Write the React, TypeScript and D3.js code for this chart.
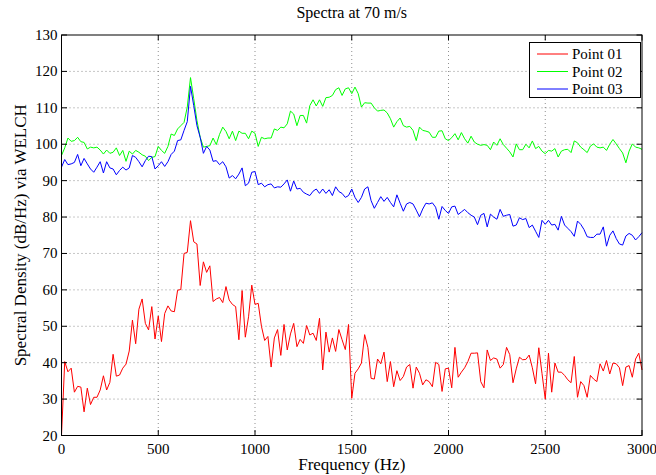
import React from "react";
import * as d3 from "d3";

const FREQ_MAX = 3000;
const N_BINS = 180;

const point01: number[] = [
  20, 40.3, 37.5, 38.5, 31.9, 33.5, 33.3, 26.5, 33, 28.5,
  30.5, 30.5, 32.5, 36.4, 32.5, 34.6, 42.3, 36.3, 36.6, 38.5,
  39.6, 43.2, 51.7, 45.2, 54.7, 57.5, 50.8, 49, 55.4, 46.5,
  52.8, 45.8, 53.5, 55.6, 54.2, 54, 59.9, 60.1, 70, 70.3,
  79, 73.2, 72.6, 61.2, 67.7, 64.8, 66.6, 56.8, 57.5, 57.9,
  56.5, 60.9, 57.2, 56, 55.4, 46.3, 59.8, 47, 52.6, 61.3,
  56, 56.3, 50, 46.1, 47.2, 38.8, 46.8, 49.1, 42, 50.5,
  43.5, 47.9, 50.8, 44.4, 46.4, 45.3, 50.2, 47.6, 48.1, 46.1,
  52.2, 38, 48.4, 42.9, 46.8, 43.1, 49.1, 46.3, 43.6, 50.5,
  30.2, 37.1, 38.3, 39.9, 47.7, 44.2, 35.7, 35.5, 41, 39.7,
  42.9, 34.8, 40.3, 33.4, 37.8, 35.1, 36.2, 38.8, 39.5, 33,
  38.8, 37.1, 33.9, 35.3, 34.8, 33.4, 40.1, 39.5, 32.1, 38.3,
  38.5, 33.1, 44.2, 36, 37.4, 38.6, 40.3, 42.6, 42.6, 42.7,
  34.8, 33.1, 43.5, 40.6, 41.3, 41, 38.5, 39.5, 44.2, 42.2,
  34.5, 38.3, 41.5, 40.8, 40.9, 42.1, 38.6, 34.2, 44.1, 37,
  30, 42.6, 31.9, 39.9, 37.4, 37.4, 36.5, 35.3, 34.5, 41.7,
  30.5, 34.8, 33.7, 30.5, 36.5, 35.5, 34.8, 39.7, 37.7, 40.6,
  36.9, 39.9, 39.7, 38.6, 33.7, 38.8, 39.2, 36, 41, 42.6,
  38,
];

const point02: number[] = [
  96.9, 99, 101.7, 100.8, 101, 101.9, 100.7, 100.5, 98.7, 99.2,
  99, 99.2, 98.4, 97.3, 98.4, 97.5, 97.8, 99, 96.9, 98.3,
  95.3, 98.1, 97.3, 98.3, 97.8, 97.1, 96.7, 95.5, 96.4, 96.6,
  99.4, 98.3, 97.5, 99.4, 102.8, 102.4, 104.2, 105.1, 106, 110.2,
  118.3, 112.5, 106.5, 101.9, 99.2, 99.4, 99.6, 101.7, 99.9, 102.7,
  104.7, 103.5, 101.5, 103.6, 101, 103.6, 103, 103, 101.5, 103.6,
  103, 99.4, 101.9, 101.5, 101.7, 101.7, 104.2, 103.8, 104.7, 104.5,
  105.6, 109.1, 108.3, 105.1, 107.9, 107.9, 105.8, 110.6, 112.2, 110.5,
  112.2, 110.4, 112.8, 112.9, 113.4, 115, 115.5, 113.4, 115.2, 115.5,
  113.9, 115.7, 113.9, 110.2, 111.4, 111.3, 111.3, 110, 109.1, 109.3,
  109.4, 108.6, 107, 104.7, 106.2, 107.2, 105.1, 104.7, 104.9, 103.8,
  101, 104.7, 103.8, 103.6, 103.3, 101.9, 101.9, 103.6, 103.7, 101.5,
  101, 101.8, 102.9, 101.2, 103.2, 101.5, 100.3, 102.2, 100.6, 100,
  99.7, 99.9, 99.7, 98.5, 100.6, 99.7, 101.5, 99.9, 98.9, 97.9,
  96.5, 100.1, 98.5, 98.5, 100, 99, 100.9, 98.8, 99.4, 98.1,
  97.4, 98.3, 98.1, 98.8, 96.5, 98.1, 98.5, 98.6, 97.7, 100.9,
  100.4, 99.2, 98.5, 97.7, 99.5, 100.1, 99.2, 99, 99.2, 98.3,
  100, 101.3, 100.1, 98.8, 97.6, 94.9, 98.1, 100.1, 99.2, 99,
  98.6,
];

const point03: number[] = [
  93.7, 95.8, 94.4, 94.6, 95, 97.2, 94.1, 96.1, 94.6, 93.2,
  92.3, 93.7, 95.2, 92.1, 95.2, 93.5, 93.2, 91.6, 92.8, 93.7,
  92.9, 93.5, 96.9, 96.4, 95.2, 93.8, 95.5, 96.7, 96.6, 93.2,
  94.1, 95.2, 93.9, 95.2, 97.2, 98.1, 101, 101.2, 103.8, 106.2,
  115.9, 110.6, 105.1, 101.9, 97.5, 99.4, 98.4, 95.3, 95.5, 94.4,
  95.2, 93.8, 90.7, 91.4, 90.5, 91.8, 93.5, 88.6, 89.3, 92.3,
  92.5, 88.9, 89.3, 88.3, 88.9, 89.1, 88, 88.3, 88.2, 89.1,
  90.2, 87.1, 89.9, 87.7, 87.9, 86.8, 86.3, 85.9, 87.1, 87.7,
  86.5, 87.7, 86.5, 87.5, 85.9, 88.3, 87, 86.5, 85.4, 85.9,
  87.7, 85.4, 84, 85.4, 87.7, 88.3, 84.5, 82.4, 84, 85.6,
  84.3, 85.4, 84, 82.8, 86.1, 83.8, 81.6, 83.6, 84, 83.6,
  81.9, 80.1, 82.2, 83.8, 83.6, 83.9, 82.7, 79.4, 82.9, 81.8,
  81, 82.8, 83, 80.7, 81.4, 82.1, 81.2, 80.5, 80, 77.9,
  80.5, 81, 77.3, 80.8, 80, 79.4, 82.1, 80.2, 80.5, 80.7,
  77.5, 77.8, 79.8, 79.3, 79.6, 77.1, 77.8, 76.1, 74.4, 79.1,
  78, 79.1, 77.8, 78, 76.4, 80.2, 77.8, 76.9, 76, 74.7,
  78.9, 78, 76.6, 74.6, 74.4, 74.4, 75.3, 75.3, 77.3, 72,
  75, 76.2, 74.1, 72.6, 72.3, 74.8, 75.5, 75, 73.7, 74.6,
  75.7,
];

const seriesNames = ["Point 01", "Point 02", "Point 03"];
const seriesColors = ["#ff0000", "#00ff00", "#0000ff"];
const seriesValues = [point01, point02, point03];

const xTicks = [0, 500, 1000, 1500, 2000, 2500, 3000];
const yTicks = [20, 30, 40, 50, 60, 70, 80, 90, 100, 110, 120, 130];

const titleText = "Spectra at 70 m/s";
const xLabel = "Frequency (Hz)";
const yLabel = "Spectral Density (dB/Hz) via WELCH";

const W = 656;
const H = 475;
const L = 61.5;
const R = 642;
const T = 35;
const B = 435.5;
const FONT = "'Liberation Serif', 'Times New Roman', serif";

export default function App() {
  const x = d3.scaleLinear().domain([0, FREQ_MAX]).range([L, R]);
  const y = d3.scaleLinear().domain([20, 130]).range([B, T]);
  const freqs = d3.range(N_BINS + 1).map((i) => (i * FREQ_MAX) / N_BINS);
  const line = d3
    .line<number>()
    .x((_, i) => x(freqs[i]))
    .y((v) => y(v));
  const tickLen = 5.5;

  return (
    <div style={{ position: "absolute", left: 0, top: 0 }}>
      <svg width={W} height={H} style={{ display: "block", background: "#fff" }} fontFamily={FONT}>
        <rect x={0} y={0} width={W} height={H} fill="#fff" />
        {/* grid */}
        <g stroke="#444" strokeWidth={0.6} strokeDasharray="1 3">
          {xTicks.slice(1, -1).map((t) => (
            <line key={"gx" + t} x1={x(t)} x2={x(t)} y1={T} y2={B} />
          ))}
          {yTicks.slice(1, -1).map((t) => (
            <line key={"gy" + t} x1={L} x2={R} y1={y(t)} y2={y(t)} />
          ))}
        </g>
        {/* data */}
        <g fill="none" strokeWidth={1} strokeLinejoin="round">
          {seriesValues.map((vals, k) => (
            <path key={k} d={line(vals) || ""} stroke={seriesColors[k]} />
          ))}
        </g>
        {/* ticks */}
        <g stroke="#000" strokeWidth={1}>
          {xTicks.map((t) => (
            <g key={"tx" + t}>
              <line x1={x(t)} x2={x(t)} y1={B} y2={B - tickLen} />
              <line x1={x(t)} x2={x(t)} y1={T} y2={T + tickLen} />
            </g>
          ))}
          {yTicks.map((t) => (
            <g key={"ty" + t}>
              <line x1={L} x2={L + tickLen} y1={y(t)} y2={y(t)} />
              <line x1={R} x2={R - tickLen} y1={y(t)} y2={y(t)} />
            </g>
          ))}
        </g>
        <rect x={L} y={T} width={R - L} height={B - T} fill="none" stroke="#000" strokeWidth={1} />
        {/* tick labels */}
        <g fontSize={15} fill="#000">
          {xTicks.map((t) => (
            <text key={"lx" + t} x={x(t)} y={B + 18} textAnchor="middle">
              {t}
            </text>
          ))}
          {yTicks.map((t) => (
            <text key={"ly" + t} x={L - 4} y={y(t) + 5} textAnchor="end">
              {t}
            </text>
          ))}
        </g>
        {/* title & labels */}
        <text x={(L + R) / 2} y={18} textAnchor="middle" fontSize={16}>
          {titleText}
        </text>
        <text x={(L + R) / 2} y={470} textAnchor="middle" fontSize={17}>
          {xLabel}
        </text>
        <text
          transform={`translate(26,${(T + B) / 2}) rotate(-90)`}
          textAnchor="middle"
          fontSize={17}
        >
          {yLabel}
        </text>
        {/* legend */}
        <g>
          <rect x={529.5} y={42.5} width={111} height={55} fill="#fff" stroke="#000" strokeWidth={1} />
          {seriesNames.map((name, k) => (
            <g key={name}>
              <line x1={537} x2={568} y1={54 + k * 17.5} y2={54 + k * 17.5} stroke={seriesColors[k]} strokeWidth={1} />
              <text x={572} y={59 + k * 17.5} fontSize={15}>
                {name}
              </text>
            </g>
          ))}
        </g>
      </svg>
    </div>
  );
}
